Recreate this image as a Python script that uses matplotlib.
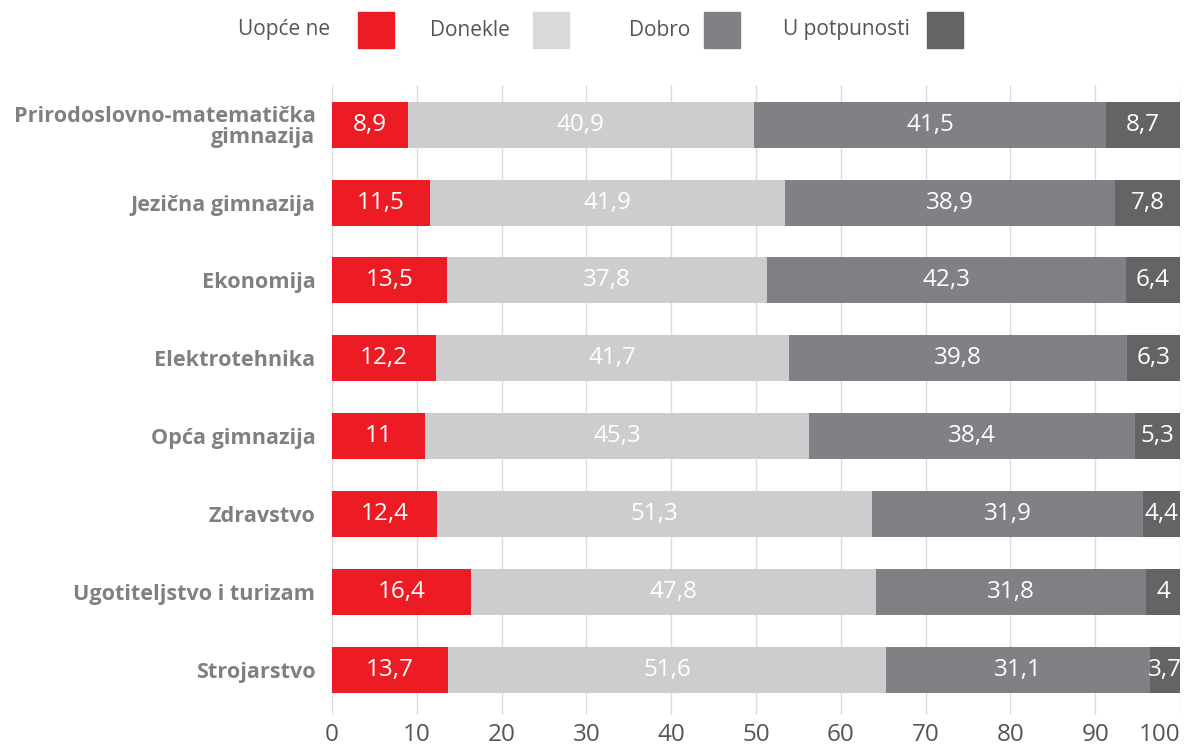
import matplotlib.pyplot as plt
import matplotlib.patches as mpatches
import numpy as np

categories = ["Prirodoslovno-matematička\ngimnazija", "Jezična gimnazija", "Ekonomija",
              "Elektrotehnika", "Opća gimnazija", "Zdravstvo",
              "Ugotiteljstvo i turizam", "Strojarstvo"]
series = ["Uopće ne", "Donekle", "Dobro", "U potpunosti"]
uopce_ne = [8.9, 11.5, 13.5, 12.2, 11, 12.4, 16.4, 13.7]
donekle = [40.9, 41.9, 37.8, 41.7, 45.3, 51.3, 47.8, 51.6]
dobro = [41.5, 38.9, 42.3, 39.8, 38.4, 31.9, 31.8, 31.1]
u_potpunosti = [8.7, 7.8, 6.4, 6.3, 5.3, 4.4, 4, 3.7]
xticks = [0, 10, 20, 30, 40, 50, 60, 70, 80, 90, 100]

colors = ["#ED1C24", "#CDCDCF", "#808184", "#636466"]
legend_colors = ["#ED1C24", "#D9D9D9", "#808184", "#636466"]

plt.rcParams['font.family'] = ['Open Sans', 'DejaVu Sans']

fig = plt.figure(figsize=(11.88, 7.48), dpi=100)
ax = fig.add_axes([0.2795, 0.0441, 0.7138, 0.8423])

y = np.arange(len(categories))
left = np.zeros(len(categories))
for vals, c in zip([uopce_ne, donekle, dobro, u_potpunosti], colors):
    vals = np.array(vals, dtype=float)
    ax.barh(y, vals, left=left, height=0.59, color=c, zorder=2)
    for yi, l, v in zip(y, left, vals):
        ax.text(l + v / 2, yi, f"{v:g}".replace(".", ","), ha="center", va="center",
                color="white", fontsize=17.5, zorder=3)
    left += vals

ax.set_xlim(0, 100)
ax.set_ylim(7.58, -0.51)
ax.set_xticks(xticks)
ax.set_xticklabels([str(t) for t in xticks], fontsize=17.5, color="#555555")
ax.get_xticklabels()[-1].set_horizontalalignment("right")
ax.set_yticks(y)
ax.set_yticklabels(categories, fontsize=15.6, fontweight="bold", color="#808080",
                   linespacing=1.0)
ax.tick_params(axis="both", length=0)
ax.tick_params(axis="x", pad=6)
ax.tick_params(axis="y", pad=12)
for s in ax.spines.values():
    s.set_visible(False)
ax.grid(axis="x", color="#DCDCDC", linewidth=1, zorder=0)
ax.set_axisbelow(True)

# legend: text then square
text_x = [330, 510, 690, 910]
sq_x = [358, 533, 704, 927]
for name, c, tx, sx in zip(series, legend_colors, text_x, sq_x):
    fig.text(tx / 1188, 1 - 30 / 748, name, ha="right", va="center",
             fontsize=15, color="#555555")
    fig.patches.append(mpatches.Rectangle((sx / 1188, 1 - 48 / 748), 36 / 1188, 36 / 748,
                                          transform=fig.transFigure, color=c, figure=fig))

fig.savefig("out.png", dpi=100)
